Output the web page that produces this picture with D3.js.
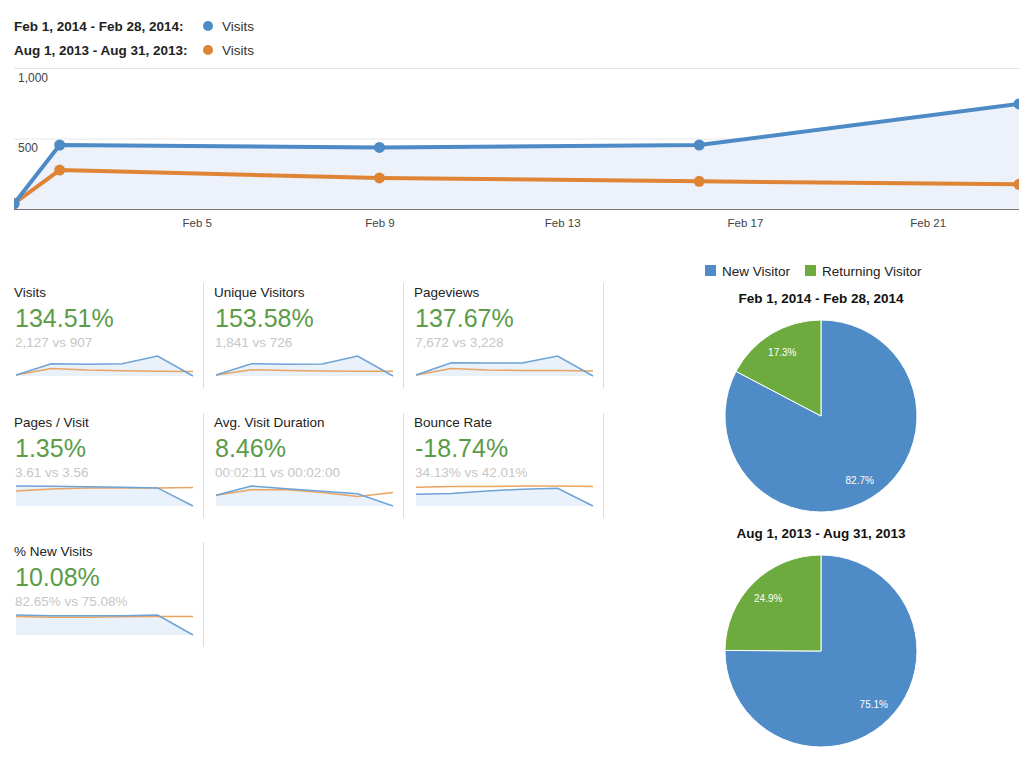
<!DOCTYPE html>
<html><head><meta charset="utf-8">
<script src="https://cdn.jsdelivr.net/npm/d3@7/dist/d3.min.js"></script>
<style>
html,body{margin:0;padding:0;background:#fff;}
svg{display:block;font-family:"Liberation Sans",Arial,Helvetica,sans-serif;}
</style></head><body>
<svg id="c" width="1024" height="763"></svg>
<script>
// ---------- DATA ----------
const legendPeriods = ["Feb 1, 2014 - Feb 28, 2014:", "Aug 1, 2013 - Aug 31, 2013:"];
const seriesName = "Visits";
const dates = ["2014-02-01","2014-02-02","2014-02-09","2014-02-16","2014-02-23"];
const visitsCurrent = [37, 454, 437, 454, 745];
const visitsPrevious = [40, 276, 220, 196, 175];
const xTickDates = ["2014-02-05","2014-02-09","2014-02-13","2014-02-17","2014-02-21"];
const yTicks = [500, 1000];

const metricNames = ["Visits","Unique Visitors","Pageviews","Pages / Visit","Avg. Visit Duration","Bounce Rate","% New Visits"];
const metricChanges = ["134.51%","153.58%","137.67%","1.35%","8.46%","-18.74%","10.08%"];
const metricCompare = ["2,127 vs 907","1,841 vs 726","7,672 vs 3,228","3.61 vs 3.56","00:02:11 vs 00:02:00","34.13% vs 42.01%","82.65% vs 75.08%"];
const sparkCurrent = [
  [37, 454, 437, 454, 745, 0],
  [30, 395, 380, 390, 646, 0],
  [120, 1700, 1650, 1650, 2552, 0],
  [3.9, 3.83, 3.75, 3.68, 3.53, 0],
  [81, 150, 130, 110, 92, 0],
  [26.5, 28.2, 33.5, 37.9, 39.7, 0],
  [90, 86.7, 86.7, 86.7, 90, 0]
];
const sparkPrevious = [
  [40, 276, 220, 196, 175, 170],
  [30, 200, 175, 165, 156, 150],
  [120, 960, 760, 700, 688, 650],
  [2.94, 3.31, 3.53, 3.53, 3.53, 3.6],
  [81, 121, 121, 101, 72, 101],
  [42.4, 44.1, 44.1, 45, 45, 44.1],
  [83.3, 80, 80, 81.7, 83.3, 83.3]
];

const pieLabels = ["New Visitor","Returning Visitor"];
const pieTitles = ["Feb 1, 2014 - Feb 28, 2014","Aug 1, 2013 - Aug 31, 2013"];
const pieCurrent = [82.7, 17.3];
const piePrevious = [75.1, 24.9];

// ---------- STYLE ----------
const BLUE = "#4d8ac6", ORANGE = "#de8434", GREEN_TXT = "#5a9c47";
const PIE_BLUE = "#4f8bc6", PIE_GREEN = "#6dab3e";
const SP_BLUE = "#6ea3d6", SP_ORANGE = "#e9a462";

const svg = d3.select("#c");

// ---------- LEGEND ----------
const leg = svg.append("g");
[BLUE, ORANGE].forEach((col, i) => {
  const yy = 26 + i * 24;
  leg.append("text").attr("x", 14).attr("y", yy + 5).attr("font-size", 13.5).attr("font-weight", "bold")
    .attr("fill", "#222").text(legendPeriods[i]);
  leg.append("circle").attr("cx", 208).attr("cy", yy).attr("r", 5).attr("fill", col);
  leg.append("text").attr("x", 222).attr("y", yy + 5).attr("font-size", 13.5).attr("fill", "#333").text(seriesName);
});

// ---------- MAIN CHART ----------
const parse = d3.utcParse("%Y-%m-%d");
const dts = dates.map(parse);
const x = d3.scaleUtc().domain([dts[0], dts[dts.length - 1]]).range([14, 1019]);
const y = d3.scaleLinear().domain([0, 1000]).range([209, 68]);

const defs = svg.append("defs");
defs.append("clipPath").attr("id", "plotclip").append("rect")
  .attr("x", 14).attr("y", 55).attr("width", 1005).attr("height", 156);

// grid
const grid = svg.append("g").attr("transform", "translate(14,0)")
  .call(d3.axisRight(y).tickValues(yTicks).tickSize(1005).tickFormat(d3.format(",")));
grid.select(".domain").remove();
grid.selectAll(".tick line").attr("stroke", "#e6e6e6");
grid.selectAll(".tick text").attr("x", 4).attr("dy", 13).attr("font-size", 12)
  .attr("fill", "#444").attr("text-anchor", "start").attr("font-family", "Liberation Sans, Arial, sans-serif");

const plot = svg.append("g").attr("clip-path", "url(#plotclip)");
const cur = dts.map((d, i) => ({d, v: visitsCurrent[i]}));
const prev = dts.map((d, i) => ({d, v: visitsPrevious[i]}));

plot.append("path").datum(cur)
  .attr("d", d3.area().x(p => x(p.d)).y0(y(0)).y1(p => y(p.v)))
  .attr("fill", "#edf2fa");

// x axis
const xa = svg.append("g").attr("transform", `translate(0,${y(0)})`)
  .call(d3.axisBottom(x).tickValues(xTickDates.map(parse)).tickSize(0).tickPadding(10).tickFormat(d3.utcFormat("%b %-d")));
xa.select(".domain").attr("stroke", "#777").attr("d", `M14,0.5H1019`);
xa.selectAll("text").attr("font-size", 11.5).attr("fill", "#444").attr("font-family", "Liberation Sans, Arial, sans-serif");

[[prev, ORANGE], [cur, BLUE]].forEach(([data, col]) => {
  plot.append("path").datum(data)
    .attr("d", d3.line().x(p => x(p.d)).y(p => y(p.v)))
    .attr("fill", "none").attr("stroke", col).attr("stroke-width", 4).attr("stroke-linejoin", "round");
  plot.selectAll(null).data(data).join("circle")
    .attr("cx", p => x(p.d)).attr("cy", p => y(p.v)).attr("r", 5.5).attr("fill", col);
});

// ---------- METRICS ----------
const colX = [14, 214, 414];
const rowY = [297, 427, 556];
metricNames.forEach((name, i) => {
  const c = i % 3, r = Math.floor(i / 3);
  const gx = colX[c], gy = rowY[r];
  const g = svg.append("g");
  // separator
  g.append("line").attr("x1", gx + 189.5).attr("x2", gx + 189.5).attr("y1", gy - 14).attr("y2", gy + 91)
    .attr("stroke", "#dcdcdc").attr("stroke-width", 1);
  g.append("text").attr("x", gx).attr("y", gy).attr("font-size", 13.5).attr("fill", "#222").text(name);
  g.append("text").attr("x", gx + 1).attr("y", gy + 30).attr("font-size", 25).attr("fill", GREEN_TXT).text(metricChanges[i]);
  g.append("text").attr("x", gx + 1).attr("y", gy + 50).attr("font-size", 13.5).attr("fill", "#c6c6c6").text(metricCompare[i]);

  const a = sparkCurrent[i], b = sparkPrevious[i];
  const sx = d3.scaleLinear().domain([0, a.length - 1]).range([gx + 2, gx + 179]);
  const bottom = gy + 79;
  const sy = d3.scaleLinear().domain([0, d3.max(a.concat(b))]).range([bottom, bottom - 20]);
  g.append("path").datum(a)
    .attr("d", d3.area().x((d, k) => sx(k)).y0(bottom).y1(d => sy(d)))
    .attr("fill", "#e9f1fa");
  g.append("path").datum(b)
    .attr("d", d3.line().x((d, k) => sx(k)).y(d => sy(d)))
    .attr("fill", "none").attr("stroke", SP_ORANGE).attr("stroke-width", 1.5);
  g.append("path").datum(a)
    .attr("d", d3.line().x((d, k) => sx(k)).y(d => sy(d)))
    .attr("fill", "none").attr("stroke", SP_BLUE).attr("stroke-width", 1.5);
});

// ---------- PIES ----------
const pl = svg.append("g");
[[PIE_BLUE, 705, pieLabels[0]], [PIE_GREEN, 805, pieLabels[1]]].forEach(([col, lx, t]) => {
  pl.append("rect").attr("x", lx).attr("y", 265).attr("width", 11).attr("height", 11).attr("fill", col);
  pl.append("text").attr("x", lx + 17).attr("y", 276).attr("font-size", 13.5).attr("fill", "#222").text(t);
});

const pieGen = d3.pie().sort(null).value(d => d);
const R = 96;
const arc = d3.arc().innerRadius(0).outerRadius(R);
const labelArc = d3.arc().innerRadius(R * 0.78).outerRadius(R * 0.78);
[[pieCurrent, 416, 303], [piePrevious, 651, 538]].forEach(([vals, cy, ty], i) => {
  svg.append("text").attr("x", 821).attr("y", ty).attr("text-anchor", "middle")
    .attr("font-size", 13.5).attr("font-weight", "bold").attr("fill", "#111").text(pieTitles[i]);
  const g = svg.append("g").attr("transform", `translate(821,${cy})`);
  const arcs = pieGen(vals);
  g.selectAll("path").data(arcs).join("path")
    .attr("d", arc).attr("fill", (d, k) => k === 0 ? PIE_BLUE : PIE_GREEN)
    .attr("stroke", "#fff").attr("stroke-width", 1);
  g.selectAll("text").data(arcs).join("text")
    .attr("transform", d => `translate(${labelArc.centroid(d)})`)
    .attr("text-anchor", "middle").attr("dy", 4).attr("font-size", 10).attr("fill", "#fff")
    .text(d => d.data.toFixed(1) + "%");
});
</script>
</body></html>
